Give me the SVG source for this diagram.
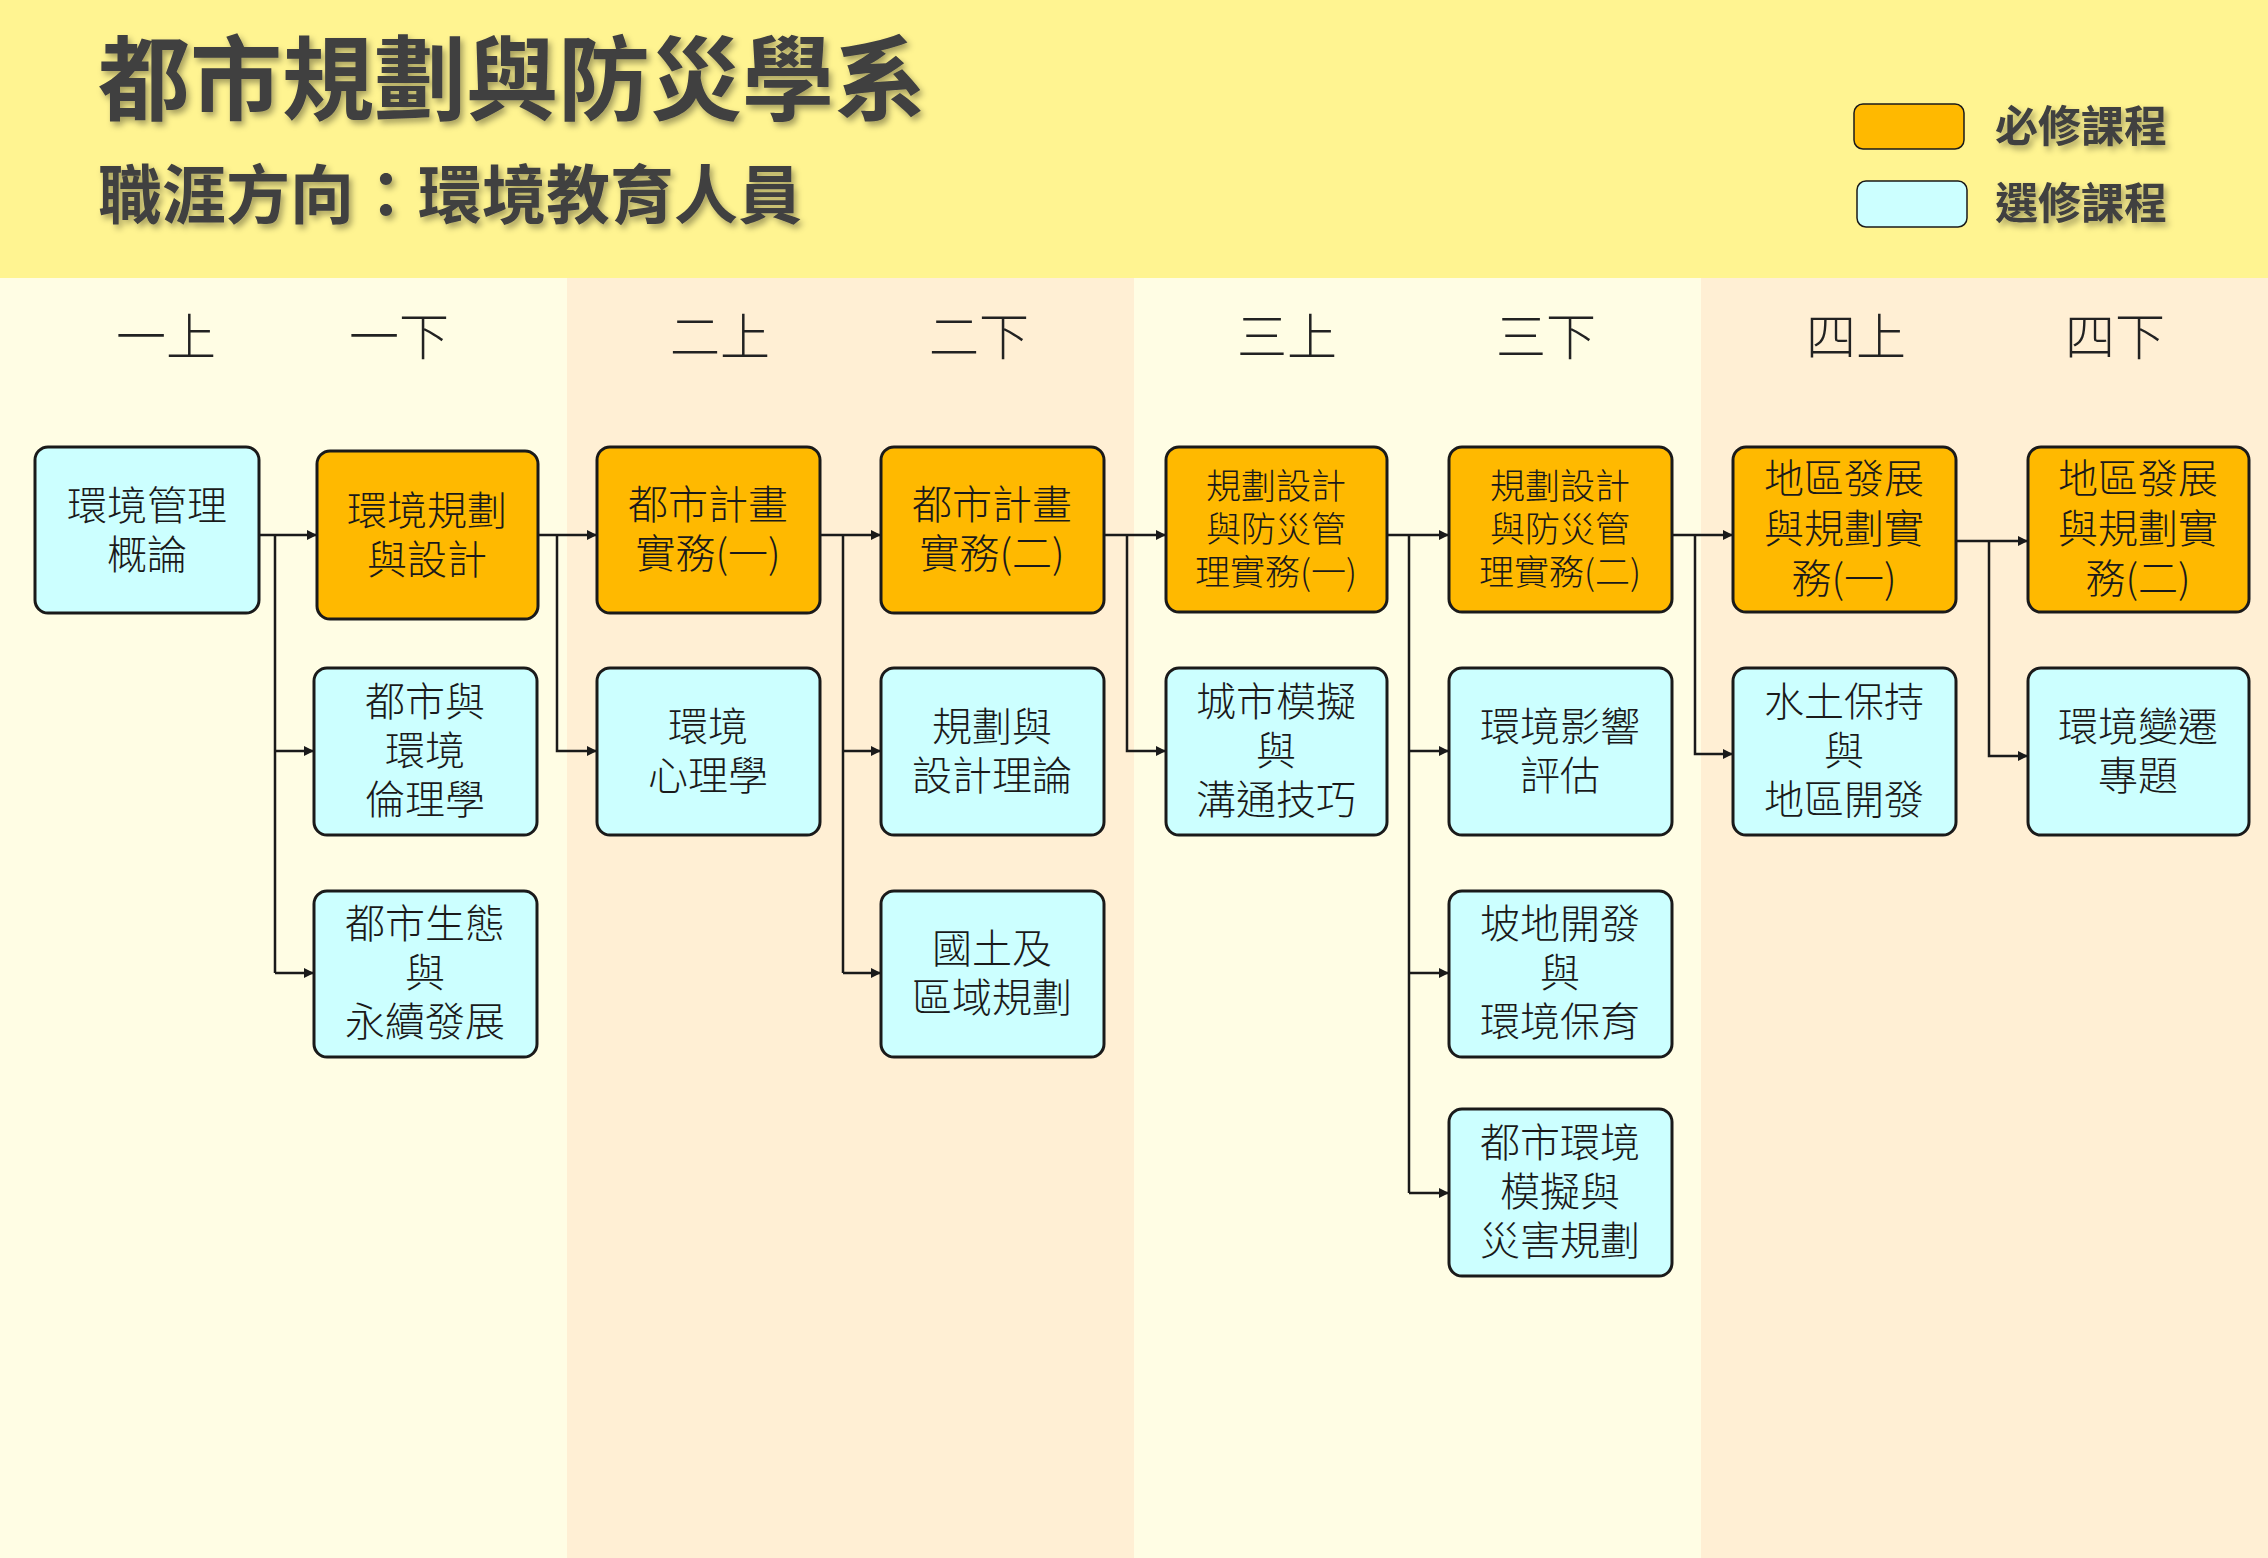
<svg xmlns="http://www.w3.org/2000/svg" width="2268" height="1558" viewBox="0 0 2268 1558">
<defs>
<style>
.req{fill:#FFB900;stroke:#1a1a1a;stroke-width:3}
.ele{fill:#CCFFFF;stroke:#1a1a1a;stroke-width:3}
.nt{font-family:"Noto Sans CJK TC","Noto Sans CJK SC",sans-serif;font-weight:300;font-size:40px;fill:#1a1a1a;text-anchor:middle;dominant-baseline:central}
.nts{font-size:35px}
.sem{font-family:"Noto Sans CJK TC",sans-serif;font-weight:300;font-size:50px;fill:#222;text-anchor:middle}
.hd{font-family:"Noto Sans CJK TC",sans-serif;font-weight:700;fill:#404040}
.cn{fill:none;stroke:#1a1a1a;stroke-width:2.5}
</style>
<marker id="ah" viewBox="0 0 10 10" refX="10" refY="5" markerWidth="4" markerHeight="4" orient="auto" markerUnits="strokeWidth">
<path d="M0,0 L10,5 L0,10 z" fill="#1a1a1a"/>
</marker>
<filter id="sh" x="-5%" y="-20%" width="110%" height="140%">
<feDropShadow dx="3" dy="4" stdDeviation="3" flood-color="#000" flood-opacity="0.35"/>
</filter>
</defs>
<rect x="0" y="0" width="2268" height="1558" fill="#FFFDE4"/>
<rect x="567" y="278" width="567" height="1280" fill="#FFEFD4"/>
<rect x="1701" y="278" width="567" height="1280" fill="#FFEFD4"/>
<rect x="0" y="0" width="2268" height="278" fill="#FFF491"/>
<g id="title" filter="url(#sh)">
<text class="hd" x="98" y="113" font-size="92">都市規劃與防災學系</text>
<text class="hd" x="98" y="218" font-size="64">職涯方向：環境教育人員</text>
</g>
<g id="legend">
<rect x="1854" y="104" width="110" height="45" rx="9" fill="#FFB900" stroke="#1a1a1a" stroke-width="1.5"/>
<rect x="1857" y="181" width="110" height="46" rx="9" fill="#CCFFFF" stroke="#1a1a1a" stroke-width="1.5"/>
<g filter="url(#sh)">
<text class="hd" x="1995" y="142" font-size="43">必修課程</text>
<text class="hd" x="1995" y="219" font-size="43">選修課程</text>
</g>
</g>
<g id="semesters">
<text class="sem" x="166" y="355">一上</text>
<text class="sem" x="399" y="355">一下</text>
<text class="sem" x="720" y="355">二上</text>
<text class="sem" x="979" y="355">二下</text>
<text class="sem" x="1287" y="355">三上</text>
<text class="sem" x="1546" y="355">三下</text>
<text class="sem" x="1856" y="355">四上</text>
<text class="sem" x="2115" y="355">四下</text>
</g>
<g id="connectors">
<path class="cn" d="M259,535 H317" marker-end="url(#ah)"/>
<path class="cn" d="M275,535 V973"/>
<path class="cn" d="M275,751 H314" marker-end="url(#ah)"/>
<path class="cn" d="M275,973 H314" marker-end="url(#ah)"/>
<path class="cn" d="M538,535 H597" marker-end="url(#ah)"/>
<path class="cn" d="M557,535 V751 H597" marker-end="url(#ah)"/>
<path class="cn" d="M820,535 H881" marker-end="url(#ah)"/>
<path class="cn" d="M843,535 V973"/>
<path class="cn" d="M843,751 H881" marker-end="url(#ah)"/>
<path class="cn" d="M843,973 H881" marker-end="url(#ah)"/>
<path class="cn" d="M1104,535 H1166" marker-end="url(#ah)"/>
<path class="cn" d="M1127,535 V751 H1166" marker-end="url(#ah)"/>
<path class="cn" d="M1387,535 H1449" marker-end="url(#ah)"/>
<path class="cn" d="M1409,535 V1193"/>
<path class="cn" d="M1409,751 H1449" marker-end="url(#ah)"/>
<path class="cn" d="M1409,973 H1449" marker-end="url(#ah)"/>
<path class="cn" d="M1409,1193 H1449" marker-end="url(#ah)"/>
<path class="cn" d="M1672,535 H1733" marker-end="url(#ah)"/>
<path class="cn" d="M1695,535 V754 H1733" marker-end="url(#ah)"/>
<path class="cn" d="M1956,541 H2028" marker-end="url(#ah)"/>
<path class="cn" d="M1989,541 V756 H2028" marker-end="url(#ah)"/>
</g>
<g id="n1"><rect class="ele" x="35" y="447" width="224" height="166" rx="13"/><text class="nt" x="147"><tspan x="147" y="503">環境管理</tspan><tspan x="147" y="552">概論</tspan></text></g>
<g id="n2"><rect class="req" x="317" y="451" width="221" height="168" rx="13"/><text class="nt" x="427"><tspan x="427" y="508">環境規劃</tspan><tspan x="427" y="557">與設計</tspan></text></g>
<g id="n3"><rect class="ele" x="314" y="668" width="223" height="167" rx="13"/><text class="nt" x="425"><tspan x="425" y="699">都市與</tspan><tspan x="425" y="748">環境</tspan><tspan x="425" y="797">倫理學</tspan></text></g>
<g id="n4"><rect class="ele" x="314" y="891" width="223" height="166" rx="13"/><text class="nt" x="425"><tspan x="425" y="921">都市生態</tspan><tspan x="425" y="970">與</tspan><tspan x="425" y="1019">永續發展</tspan></text></g>
<g id="n5"><rect class="req" x="597" y="447" width="223" height="166" rx="13"/><text class="nt" x="708"><tspan x="708" y="502">都市計畫</tspan><tspan x="708" y="551">實務(一)</tspan></text></g>
<g id="n6"><rect class="ele" x="597" y="668" width="223" height="167" rx="13"/><text class="nt" x="708"><tspan x="708" y="724">環境</tspan><tspan x="708" y="773">心理學</tspan></text></g>
<g id="n7"><rect class="req" x="881" y="447" width="223" height="166" rx="13"/><text class="nt" x="992"><tspan x="992" y="502">都市計畫</tspan><tspan x="992" y="551">實務(二)</tspan></text></g>
<g id="n8"><rect class="ele" x="881" y="668" width="223" height="167" rx="13"/><text class="nt" x="992"><tspan x="992" y="724">規劃與</tspan><tspan x="992" y="773">設計理論</tspan></text></g>
<g id="n9"><rect class="ele" x="881" y="891" width="223" height="166" rx="13"/><text class="nt" x="992"><tspan x="992" y="946">國土及</tspan><tspan x="992" y="995">區域規劃</tspan></text></g>
<g id="n10"><rect class="req" x="1166" y="447" width="221" height="165" rx="13"/><text class="nt nts" x="1276"><tspan x="1276" y="483">規劃設計</tspan><tspan x="1276" y="526">與防災管</tspan><tspan x="1276" y="569">理實務(一)</tspan></text></g>
<g id="n11"><rect class="ele" x="1166" y="668" width="221" height="167" rx="13"/><text class="nt" x="1276"><tspan x="1276" y="699">城市模擬</tspan><tspan x="1276" y="748">與</tspan><tspan x="1276" y="797">溝通技巧</tspan></text></g>
<g id="n12"><rect class="req" x="1449" y="447" width="223" height="165" rx="13"/><text class="nt nts" x="1560"><tspan x="1560" y="483">規劃設計</tspan><tspan x="1560" y="526">與防災管</tspan><tspan x="1560" y="569">理實務(二)</tspan></text></g>
<g id="n13"><rect class="ele" x="1449" y="668" width="223" height="167" rx="13"/><text class="nt" x="1560"><tspan x="1560" y="724">環境影響</tspan><tspan x="1560" y="773">評估</tspan></text></g>
<g id="n14"><rect class="ele" x="1449" y="891" width="223" height="166" rx="13"/><text class="nt" x="1560"><tspan x="1560" y="921">坡地開發</tspan><tspan x="1560" y="970">與</tspan><tspan x="1560" y="1019">環境保育</tspan></text></g>
<g id="n15"><rect class="ele" x="1449" y="1109" width="223" height="167" rx="13"/><text class="nt" x="1560"><tspan x="1560" y="1140">都市環境</tspan><tspan x="1560" y="1189">模擬與</tspan><tspan x="1560" y="1238">災害規劃</tspan></text></g>
<g id="n16"><rect class="req" x="1733" y="447" width="223" height="165" rx="13"/><text class="nt" x="1844"><tspan x="1844" y="476">地區發展</tspan><tspan x="1844" y="526">與規劃實</tspan><tspan x="1844" y="576">務(一)</tspan></text></g>
<g id="n17"><rect class="ele" x="1733" y="668" width="223" height="167" rx="13"/><text class="nt" x="1844"><tspan x="1844" y="699">水土保持</tspan><tspan x="1844" y="748">與</tspan><tspan x="1844" y="797">地區開發</tspan></text></g>
<g id="n18"><rect class="req" x="2028" y="447" width="221" height="165" rx="13"/><text class="nt" x="2138"><tspan x="2138" y="476">地區發展</tspan><tspan x="2138" y="526">與規劃實</tspan><tspan x="2138" y="576">務(二)</tspan></text></g>
<g id="n19"><rect class="ele" x="2028" y="668" width="221" height="167" rx="13"/><text class="nt" x="2138"><tspan x="2138" y="724">環境變遷</tspan><tspan x="2138" y="773">專題</tspan></text></g>
</svg>
